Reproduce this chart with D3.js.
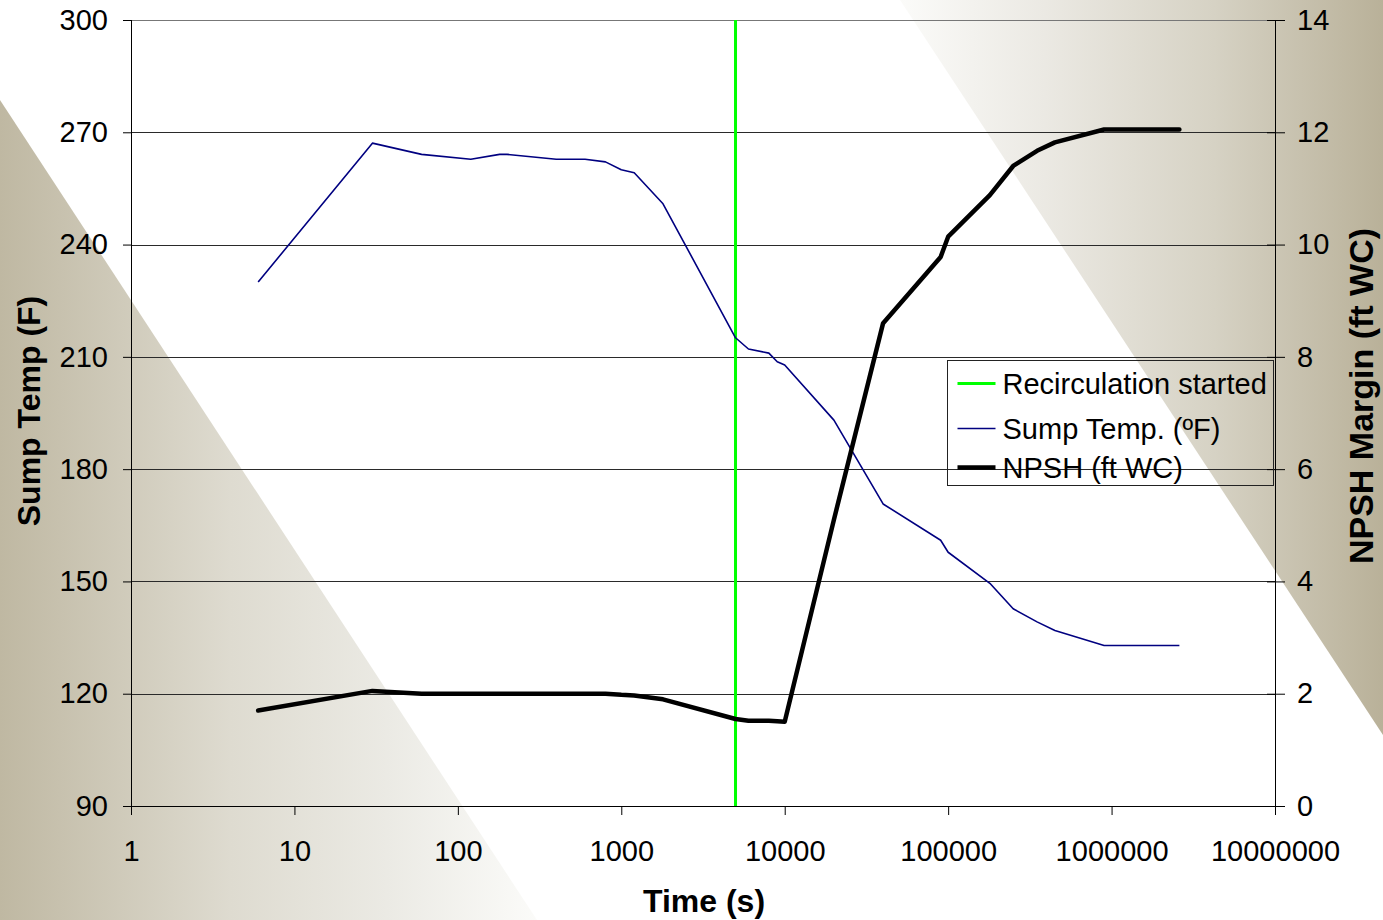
<!DOCTYPE html>
<html>
<head>
<meta charset="utf-8">
<script src="https://cdn.jsdelivr.net/npm/d3@7"></script>
<style>
  body { margin: 0; background: #fff; }
  svg { display: block; font-family: "Liberation Sans", Arial, sans-serif; }
</style>
</head>
<body>
<div id="chart"></div>
<script>
// time points (s), shared by both series
const times = [6, 30, 60, 120, 180, 200, 400, 600, 800, 1000, 1200, 1800, 5000, 6000, 8000, 9000, 10000,
  20000, 40000, 90000, 100000, 180000, 250000, 350000, 450000, 900000, 2200000, 2600000];
const sumpTemp = [230, 267.1, 264.1, 262.8, 264.1, 264.1, 262.8, 262.8, 262.1, 260.0, 259.2, 250.9, 215.1, 212.1,
  211.0, 208.7, 207.8, 193.1, 170.7, 161.0, 157.8, 149.5, 142.7, 139.2, 136.9, 132.9, 132.9, 132.9];
const npsh = [1.7, 2.05, 2.0, 2.0, 2.0, 2.0, 2.0, 2.0, 2.0, 1.98, 1.97, 1.9, 1.55, 1.52, 1.52, 1.51, 1.5,
  5.1, 8.6, 9.78, 10.14, 10.88, 11.4, 11.67, 11.82, 12.05, 12.05, 12.05];
const recircStart = [5000];

const xTicks = [1, 10, 100, 1000, 10000, 100000, 1000000, 10000000];
const leftTicks = [90, 120, 150, 180, 210, 240, 270, 300];
const rightTicks = [0, 2, 4, 6, 8, 10, 12, 14];
const legendLabels = ['Recirculation started', 'Sump Temp. (ºF)', 'NPSH (ft WC)'];

const W = 1383, H = 920;
const margin = {top: 20, bottom: 114, left: 131, right: 108};
const width = W - margin.left - margin.right;
const height = H - margin.top - margin.bottom;

const svg = d3.select('#chart').append('svg')
  .attr('width', W)
  .attr('height', H);

// background bands
const defs = svg.append('defs');
const gl = defs.append('linearGradient').attr('id', 'gl')
  .attr('gradientUnits', 'userSpaceOnUse').attr('x1', 0).attr('x2', 537).attr('y1', 0).attr('y2', 0);
gl.append('stop').attr('offset', 0).attr('stop-color', '#bfb8a2');
gl.append('stop').attr('offset', 0.43).attr('stop-color', '#dedbd0');
gl.append('stop').attr('offset', 0.72).attr('stop-color', '#ebeae4');
gl.append('stop').attr('offset', 1).attr('stop-color', '#fbfbf9');
const gr = defs.append('linearGradient').attr('id', 'gr')
  .attr('gradientUnits', 'userSpaceOnUse').attr('x1', 900).attr('x2', 1383).attr('y1', 0).attr('y2', 0);
gr.append('stop').attr('offset', 0).attr('stop-color', '#fbfbf9');
gr.append('stop').attr('offset', 0.3).attr('stop-color', '#ebe9e3');
gr.append('stop').attr('offset', 0.65).attr('stop-color', '#d6d2c4');
gr.append('stop').attr('offset', 1).attr('stop-color', '#b9b199');

svg.append('polygon').attr('points', '0,100 537,920 0,920').attr('fill', 'url(#gl)');
svg.append('polygon').attr('points', '900,0 1383,0 1383,735').attr('fill', 'url(#gr)');

const g = svg.append('g').attr('transform', `translate(${margin.left}, ${margin.top})`);

const x = d3.scaleLog().domain([1, 10000000]).range([0, width]);
const y = d3.scaleLinear().domain([90, 300]).range([height, 0]);
const y2 = d3.scaleLinear().domain([0, 14]).range([height, 0]);

// gridlines
g.append('g').selectAll('line')
  .data(leftTicks)
  .enter().append('line')
    .attr('x1', 0).attr('x2', width)
    .attr('y1', d => Math.round(y(d)) + 0.5).attr('y2', d => Math.round(y(d)) + 0.5)
    .attr('stroke', d => d === 300 ? '#777' : '#2a2a2a').attr('stroke-width', 1);

const tickFont = g => {
  g.select('.domain').remove();
  g.selectAll('text').attr('font-size', 29).attr('fill', '#000')
    .attr('font-family', '"Liberation Sans", Arial, sans-serif');
  g.selectAll('line').attr('stroke', '#000');
};

const yAxisCall = d3.axisLeft(y).tickValues(leftTicks).tickSize(8).tickPadding(15).tickFormat(d3.format('d'));
g.append('g').call(yAxisCall).call(tickFont);

const y2AxisCall = d3.axisRight(y2).tickValues(rightTicks).tickSize(10).tickPadding(12).tickFormat(d3.format('d'));
g.append('g').attr('transform', `translate(${width}, 0)`).call(y2AxisCall).call(tickFont)
  .selectAll('.tick line').attr('x1', -8);

const xAxisCall = d3.axisBottom(x).tickValues(xTicks).tickSize(9).tickPadding(25).tickFormat(d3.format('d'));
g.append('g').attr('transform', `translate(0, ${height})`).call(xAxisCall).call(tickFont);

// axis lines
g.append('line').attr('x1', 0.5).attr('x2', 0.5).attr('y1', 0).attr('y2', height).attr('stroke', '#000');
g.append('line').attr('x1', width + 0.5).attr('x2', width + 0.5).attr('y1', 0).attr('y2', height).attr('stroke', '#000');
g.append('line').attr('x1', 0).attr('x2', width).attr('y1', height + 0.5).attr('y2', height + 0.5).attr('stroke', '#000');

// series
g.selectAll('.recirc')
  .data(recircStart)
  .enter().append('line')
    .attr('class', 'recirc')
    .attr('x1', d => x(d)).attr('x2', d => x(d))
    .attr('y1', 0).attr('y2', height)
    .attr('stroke', '#00ff00').attr('stroke-width', 3);

const tempLine = d3.line().x((d, i) => x(times[i])).y(d => y(d));
g.append('path').datum(sumpTemp)
  .attr('d', tempLine)
  .attr('fill', 'none').attr('stroke', '#000080').attr('stroke-width', 1.6)
  .attr('stroke-linejoin', 'round');

const npshLine = d3.line().x((d, i) => x(times[i])).y(d => y2(d));
g.append('path').datum(npsh)
  .attr('d', npshLine)
  .attr('fill', 'none').attr('stroke', '#000').attr('stroke-width', 4.5)
  .attr('stroke-linejoin', 'round').attr('stroke-linecap', 'round');

// legend
const legendStyles = [
  {stroke: '#00ff00', w: 3},
  {stroke: '#000080', w: 1.6},
  {stroke: '#000', w: 4.5}
];
const legend = svg.append('g').attr('transform', 'translate(947.5, 360.5)');
legend.append('rect').attr('width', 326).attr('height', 125)
  .attr('fill', 'none').attr('stroke', '#222').attr('stroke-width', 1);
const rowY = [23, 68, 107];
const items = legend.selectAll('.item')
  .data(legendLabels)
  .enter().append('g')
    .attr('transform', (d, i) => `translate(0, ${rowY[i]})`);
items.append('line')
  .attr('x1', 10).attr('x2', 48)
  .attr('stroke', (d, i) => legendStyles[i].stroke)
  .attr('stroke-width', (d, i) => legendStyles[i].w);
items.append('text')
  .attr('x', 55).attr('dy', '0.35em')
  .attr('font-size', 29)
  .text(d => d);

// axis titles
svg.append('text')
  .attr('x', 704).attr('y', 912)
  .attr('text-anchor', 'middle')
  .attr('font-size', 32).attr('font-weight', 'bold')
  .text('Time (s)');

svg.append('text')
  .attr('transform', 'translate(40, 411) rotate(-90)')
  .attr('text-anchor', 'middle')
  .attr('font-size', 32).attr('font-weight', 'bold')
  .text('Sump Temp (F)');

svg.append('text')
  .attr('transform', 'translate(1373, 396) rotate(-90)')
  .attr('text-anchor', 'middle')
  .attr('font-size', 34).attr('font-weight', 'bold')
  .text('NPSH Margin (ft WC)');
</script>
</body>
</html>
